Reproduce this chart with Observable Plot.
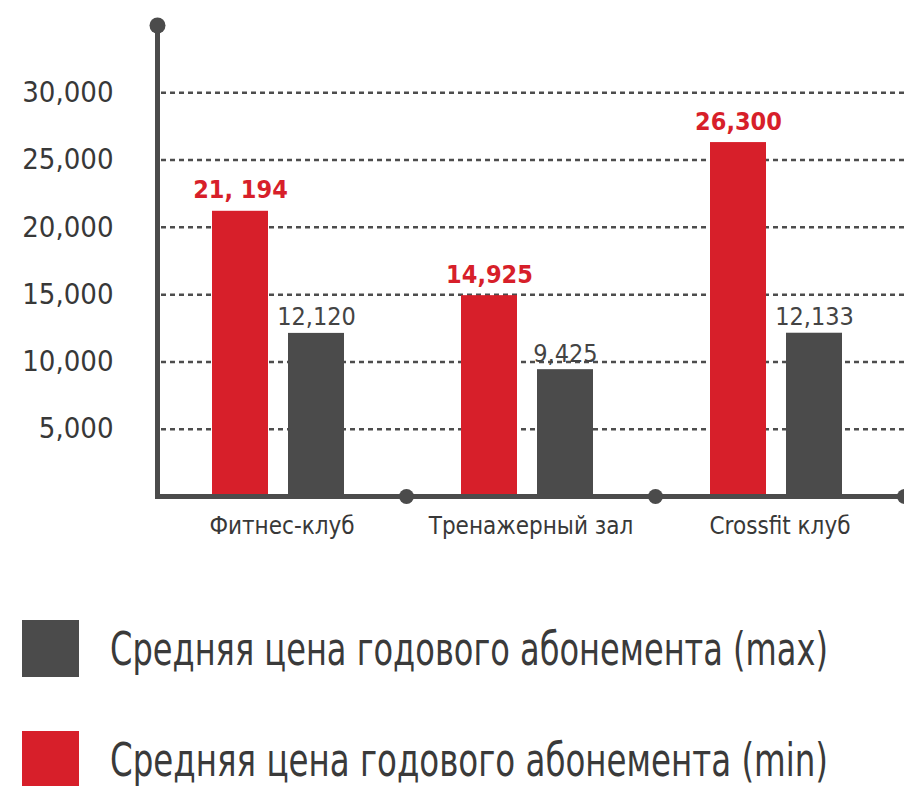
<!DOCTYPE html>
<html>
<head>
<meta charset="utf-8">
<script src="https://cdn.jsdelivr.net/npm/d3@7"></script>
<script src="https://cdn.jsdelivr.net/npm/@observablehq/plot@0.6"></script>
<style>
  body { margin: 0; background: #fff; overflow: hidden;
         font-family: "DejaVu Sans Condensed", "Liberation Sans Narrow", sans-serif; }
  #legend { padding-top: 60px; }
  .item { display: flex; align-items: center; height: 57px; margin-left: 22px; margin-bottom: 54px; }
  .sw { width: 57px; height: 57px; margin-right: 31px; flex: none; }
  .lab { display: inline-block; font-size: 46px; color: #3a3a3a; white-space: nowrap; transform-origin: left center; }
</style>
</head>
<body>
<div id="chart"></div>
<div id="legend"></div>
<script>
const categories = ["Фитнес-клуб", "Тренажерный зал", "Crossfit клуб"];
const minValues = [21194, 14925, 26300];
const maxValues = [12120, 9425, 12133];
const minLabels = ["21, 194", "14,925", "26,300"];
const maxLabels = ["12,120", "9,425", "12,133"];
const yTicks = [5000, 10000, 15000, 20000, 25000, 30000];
const legendNames = ["Средняя цена годового абонемента (max)", "Средняя цена годового абонемента (min)"];
const colorMin = "#d71f2a";
const colorMax = "#4b4b4b";
const axisColor = "#4b4b4b";
const textColor = "#383838";

const width = 904, height = 560, mL = 157, mR = 0, mT = 25, mB = 64;
const step = (width - mL - mR) / categories.length;
const barW = 56, minLeft = 55, maxLeft = 131;
const insets = (left) => ({insetLeft: left, insetRight: step - left - barW});
const centerOffset = (left) => (left + barW / 2) - step / 2;

const minData = categories.map((c, i) => ({cat: c, value: minValues[i], label: minLabels[i]}));
const maxData = categories.map((c, i) => ({cat: c, value: maxValues[i], label: maxLabels[i]}));

const chart = Plot.plot({
  width, height,
  marginLeft: mL, marginRight: mR, marginTop: mT, marginBottom: mB,
  style: {fontFamily: '"DejaVu Sans Condensed", "Liberation Sans Narrow", sans-serif', color: textColor, background: "#fff", overflow: "visible"},
  x: {domain: categories, padding: 0},
  y: {domain: [0, 35000]},
  marks: [
    Plot.ruleY(yTicks, {stroke: "#4d4d4d", strokeWidth: 2.5, strokeDasharray: "5,4", insetLeft: 4}),
    Plot.barY(minData, {x: "cat", y: "value", fill: colorMin, ...insets(minLeft)}),
    Plot.barY(maxData, {x: "cat", y: "value", fill: colorMax, ...insets(maxLeft)}),
    Plot.text(minData, {x: "cat", y: "value", text: "label", fill: colorMin, fontSize: 25, fontWeight: 600,
      dx: centerOffset(minLeft), dy: -13, lineAnchor: "bottom"}),
    Plot.text(maxData, {x: "cat", y: "value", text: "label", fill: "#444", fontSize: 25,
      dx: centerOffset(maxLeft), dy: -8, lineAnchor: "bottom"}),
    Plot.ruleY([0], {stroke: axisColor, strokeWidth: 5}),
    Plot.frame({anchor: "left", stroke: axisColor, strokeWidth: 5}),
    Plot.dot([0], {frameAnchor: "top-left", r: 8, fill: axisColor, stroke: "none"}),
    Plot.dot(categories, {x: d => d, y: () => 0, dx: step / 2, r: 7.5, fill: axisColor, stroke: "none"}),
    Plot.axisY(yTicks, {tickSize: 0, tickPadding: 44, fontSize: 29, fill: textColor, tickFormat: d3.format(","), label: null}),
    Plot.axisX({tickSize: 0, tickPadding: 20, fontSize: 24, fill: textColor, label: null})
  ]
});
document.getElementById("chart").appendChild(chart);

const legendColors = [colorMax, colorMin];
const legendTextWidth = 718;
const legend = document.getElementById("legend");
legendNames.forEach((name, i) => {
  const item = document.createElement("div");
  item.className = "item";
  const sw = document.createElement("div");
  sw.className = "sw";
  sw.style.background = legendColors[i];
  const lab = document.createElement("span");
  lab.className = "lab";
  lab.textContent = name;
  item.appendChild(sw);
  item.appendChild(lab);
  legend.appendChild(item);
  const w = lab.getBoundingClientRect().width;
  if (w > 0) lab.style.transform = `scaleX(${(legendTextWidth / w).toFixed(4)})`;
});
</script>
</body>
</html>
